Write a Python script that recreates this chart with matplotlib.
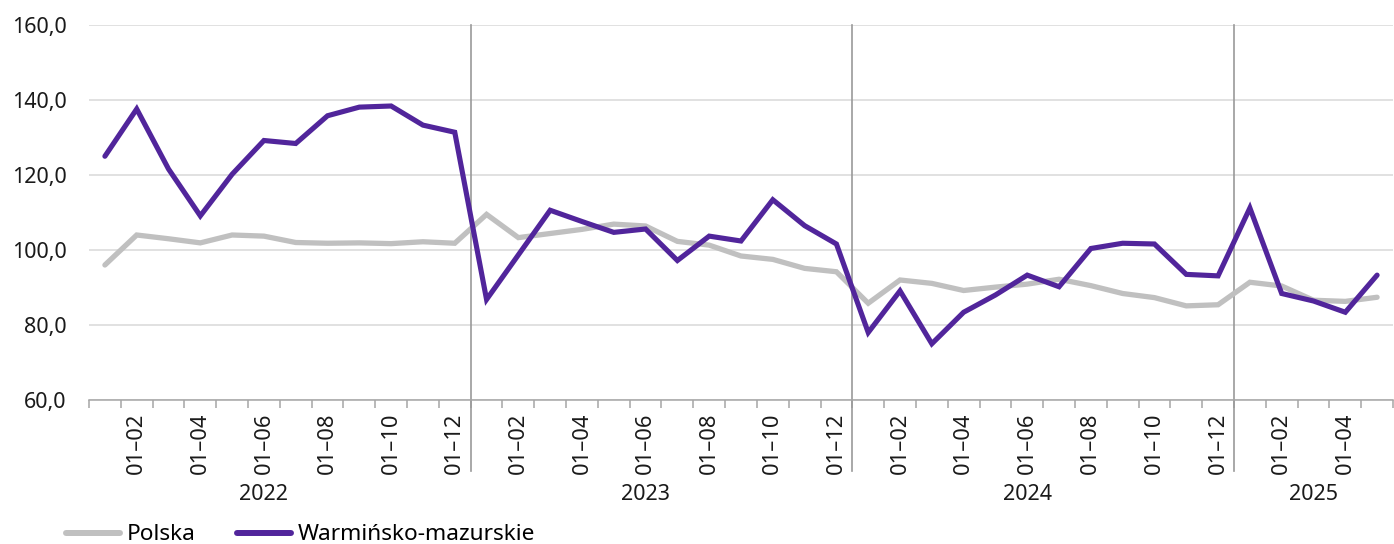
import matplotlib
matplotlib.use("Agg")
import matplotlib.pyplot as plt
import matplotlib.transforms as mtransforms
from matplotlib.lines import Line2D
import numpy as np

plt.rcParams['font.family'] = ['Noto Sans', 'DejaVu Sans']

years = ["2022", "2023", "2024", "2025"]
months_per_year = [12, 12, 12, 5]

polska = [96.0, 104.0, 103.0, 101.9, 104.0, 103.7, 102.0, 101.8, 101.9, 101.7, 102.2, 101.8,
          109.5, 103.3, 104.4, 105.5, 106.9, 106.4, 102.3, 101.3, 98.4, 97.5, 95.1, 94.2,
          85.8, 92.0, 91.1, 89.2, 90.1, 90.9, 92.2, 90.5, 88.4, 87.3, 85.1, 85.4,
          91.4, 90.4, 86.6, 86.3, 87.4]
warminsko = [125.0, 137.6, 121.6, 109.1, 120.2, 129.2, 128.4, 135.8, 138.1, 138.4, 133.3, 131.4,
             86.8, 98.7, 110.6, 107.6, 104.7, 105.6, 97.2, 103.7, 102.4, 113.4, 106.5, 101.6,
             78.0, 89.1, 75.0, 83.4, 88.0, 93.3, 90.2, 100.4, 101.8, 101.6, 93.5, 93.1,
             111.2, 88.4, 86.4, 83.4, 93.3]
tick_month_labels = ["01\u201302", "01\u201304", "01\u201306", "01\u201308", "01\u201310", "01\u201312"]
series_names = ["Polska", "Warmi\u0144sko-mazurskie"]

col_pl = "#c0c0c0"
col_wm = "#51259b"

W, H = 1394, 544
fig = plt.figure(figsize=(W / 100, H / 100), dpi=100)
ax = fig.add_axes([89 / W, 1 - 400 / H, (1393 - 89) / W, (400 - 25) / H])

n = len(polska)
x = np.arange(n)
ax.plot(x, polska, color=col_pl, lw=3.8, solid_capstyle='round', solid_joinstyle='miter', zorder=3)
ax.plot(x, warminsko, color=col_wm, lw=3.7, solid_capstyle='round', solid_joinstyle='miter', zorder=4)

ax.set_xlim(-0.5, n - 0.5)
ax.set_ylim(60, 160)
ax.set_yticks(np.arange(60, 161, 20))
ax.set_yticklabels([f"{v:.1f}".replace(".", ",") for v in np.arange(60, 161, 20)])
ax.tick_params(axis='y', length=0, pad=16, labelsize=15.5, colors='#1a1a1a')
ax.grid(axis='y', color='#d9d9d9', lw=1.1, zorder=0)

for s in ['top', 'right', 'left']:
    ax.spines[s].set_visible(False)
ax.spines['bottom'].set_color('#a6a6a6')
ax.spines['bottom'].set_linewidth(1.1)

# major ticks: labels at even months
major_pos, major_lab = [], []
start = 0
group_starts = []
for yr, m in zip(years, months_per_year):
    group_starts.append(start)
    for k in range(m):
        if (k + 1) % 2 == 0:
            major_pos.append(start + k)
            major_lab.append(tick_month_labels[(k + 1) // 2 - 1])
    start += m
ax.set_xticks(major_pos)
ax.set_xticklabels(major_lab, rotation=90, ha='center', va='top')
ax.tick_params(axis='x', which='major', length=0, pad=9, labelsize=15.8, colors='#1a1a1a')
ax.set_xticks(np.arange(-0.5, n, 1.0), minor=True)
ax.tick_params(axis='x', which='minor', length=5.5, width=1.1, color='#a6a6a6')

trans = mtransforms.blended_transform_factory(ax.transData, ax.transAxes)
for gs in group_starts[1:]:
    ax.plot([gs - 0.5, gs - 0.5], [-0.19, 1.0], transform=trans, color='#999999', lw=1.2,
            clip_on=False, zorder=2)

for yr, gs, m in zip(years, group_starts, months_per_year):
    ax.text(gs + (m - 1) // 2, -0.253, yr, transform=trans, ha='center', va='center',
            fontsize=15.5, color='#1a1a1a')

handles = [Line2D([0], [0], color=col_pl, lw=4.3, solid_capstyle='round'),
           Line2D([0], [0], color=col_wm, lw=4.3, solid_capstyle='round')]
fig.legend(handles, series_names, loc='center left', bbox_to_anchor=(66 / W, 1 - 535 / H),
           ncol=2, frameon=False, fontsize=16.3, handlelength=2.4, handletextpad=0.3,
           columnspacing=1.8, borderpad=0, borderaxespad=0)

fig.savefig("out.png", dpi=100)
